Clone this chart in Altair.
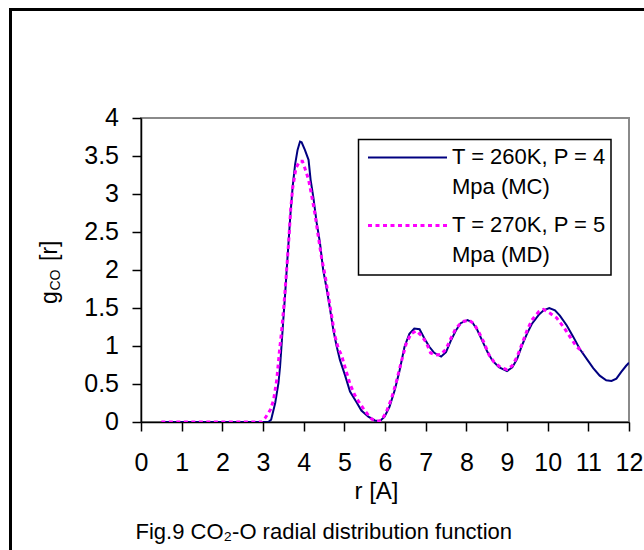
import altair as alt
import pandas as pd

# ---------------- data ----------------
r_mc = [0.5, 3.05, 3.13, 3.2, 3.3, 3.38, 3.42, 3.46, 3.5, 3.54, 3.58, 3.63, 3.67, 3.73,
        3.79, 3.85, 3.91, 3.95, 4.03, 4.12, 4.17, 4.24, 4.32, 4.4, 4.48, 4.57, 4.65, 4.73,
        4.81, 4.89, 5.02, 5.14, 5.3, 5.42, 5.59, 5.75, 5.87, 5.99, 6.11, 6.24, 6.36, 6.48,
        6.6, 6.72, 6.85, 6.97, 7.09, 7.21, 7.38, 7.5, 7.62, 7.74, 7.86, 8.03, 8.15, 8.27,
        8.39, 8.52, 8.64, 8.8, 9.0, 9.13, 9.25, 9.37, 9.49, 9.61, 9.78, 9.9, 10.04, 10.18,
        10.3, 10.47, 10.63, 10.79, 10.96, 11.12, 11.28, 11.44, 11.57, 11.69, 11.81, 11.93, 12.0]
g_mc = [0.0, 0.0, 0.0, 0.03, 0.25, 0.51, 0.73, 1.04, 1.35, 1.65, 1.98, 2.38, 2.7, 3.1,
        3.39, 3.58, 3.69, 3.68, 3.58, 3.45, 3.19, 2.95, 2.62, 2.36, 2.0, 1.74, 1.48, 1.21,
        1.0, 0.82, 0.61, 0.4, 0.26, 0.15, 0.07, 0.02, 0.01, 0.07, 0.2, 0.42, 0.68, 0.99,
        1.16, 1.23, 1.22, 1.1, 0.99, 0.91, 0.86, 0.92, 1.07, 1.2, 1.3, 1.34, 1.31, 1.21,
        1.07, 0.92, 0.81, 0.72, 0.67, 0.72, 0.83, 1.01, 1.16, 1.29, 1.41, 1.47, 1.5, 1.47,
        1.4, 1.27, 1.12, 0.96, 0.83, 0.71, 0.61, 0.55, 0.54, 0.57, 0.66, 0.74, 0.78]

r_md = [0.5, 2.97, 3.05, 3.18, 3.26, 3.34, 3.4, 3.46, 3.52, 3.57, 3.63, 3.68, 3.73, 3.81,
        3.9, 3.97, 4.03, 4.12, 4.2, 4.28, 4.36, 4.44, 4.53, 4.61, 4.69, 4.77, 4.85, 4.93,
        5.04, 5.14, 5.25, 5.34, 5.5, 5.67, 5.79, 5.91, 6.03, 6.16, 6.28, 6.4, 6.52, 6.64,
        6.77, 6.89, 7.01, 7.12, 7.25, 7.38, 7.5, 7.62, 7.74, 7.9, 8.07, 8.19, 8.31, 8.43,
        8.56, 8.68, 8.84, 9.0, 9.13, 9.25, 9.37, 9.49, 9.61, 9.78, 9.9, 10.06, 10.22, 10.39,
        10.55, 10.71, 10.88]
g_md = [0.0, 0.0, 0.05, 0.16, 0.29, 0.56, 0.91, 1.21, 1.57, 1.92, 2.36, 2.79, 3.08, 3.34,
        3.43, 3.43, 3.34, 3.19, 2.97, 2.73, 2.44, 2.16, 1.92, 1.65, 1.39, 1.13, 0.97, 0.88,
        0.68, 0.5, 0.36, 0.28, 0.15, 0.04, 0.01, 0.02, 0.13, 0.31, 0.53, 0.79, 1.03, 1.16,
        1.2, 1.14, 1.05, 0.91, 0.88, 0.89, 0.96, 1.1, 1.23, 1.32, 1.34, 1.29, 1.18, 1.05,
        0.88, 0.79, 0.72, 0.69, 0.74, 0.86, 1.03, 1.2, 1.34, 1.45, 1.48, 1.43, 1.37, 1.25,
        1.12, 0.99, 0.92]

x_ticks = list(range(0, 13))
y_ticks = [0, 0.5, 1, 1.5, 2, 2.5, 3, 3.5, 4]
y_tick_labels = ["0", "0.5", "1", "1.5", "2", "2.5", "3", "3.5", "4"]
legend_mc = ["T = 260K, P = 4", "Mpa (MC)"]
legend_md = ["T = 270K, P = 5", "Mpa (MD)"]
caption = "Fig.9 CO\u2082-O radial distribution function"
x_title = "r [A]"
y_title_parts = ["g", "CO", "[r]"]

# ---------------- layout ----------------
FONT = "Liberation Sans"
PL, PT = 141, 118          # plot area origin on the page
W, H = 488, 304            # plot area size
NAVY, MAGENTA = "#000080", "#FF00FF"


def px(x):
    return x - PL


def py(y):
    return y - PT


one = pd.DataFrame({"k": [0]})
mc = pd.DataFrame({"r": r_mc, "g": g_mc})
md = pd.DataFrame({"r": r_md, "g": g_md})
ylab = pd.DataFrame({"v": y_ticks, "t": y_tick_labels})

xs = alt.Scale(domain=[0, 12], nice=False, zero=False)
ys = alt.Scale(domain=[0, 4], nice=False, zero=False)

x_axis = alt.Axis(values=x_ticks, title=x_title, labelFlush=False, labelOverlap=False,
                  labelPadding=19, tickSize=9, titleX=235, titleY=76,
                  titleAlign="center", titleBaseline="alphabetic")
y_axis = alt.Axis(values=y_ticks, title=None, labels=False, tickSize=9)

frame = alt.Chart(one).mark_rect(filled=False, stroke="black", strokeWidth=3).encode(
    x=alt.value(px(10.5)), x2=alt.value(px(720)),
    y=alt.value(py(9.5)), y2=alt.value(py(640)))

line_mc = alt.Chart(mc).mark_line(color=NAVY, strokeWidth=2, clip=True).encode(
    x=alt.X("r:Q", scale=xs, axis=x_axis),
    y=alt.Y("g:Q", scale=ys, axis=y_axis))

line_md = alt.Chart(md).mark_line(color=MAGENTA, strokeWidth=3, strokeDash=[4, 3.5],
                                  clip=True).encode(
    x=alt.X("r:Q", scale=xs, axis=x_axis),
    y=alt.Y("g:Q", scale=ys, axis=y_axis))

# y tick labels, positioned through the y scale
y_labels = alt.Chart(ylab).mark_text(align="right", baseline="middle", font=FONT,
                                     fontSize=25, color="black").encode(
    y=alt.Y("v:Q", scale=ys, axis=y_axis),
    x=alt.value(px(119)),
    text="t:N")

box = alt.Chart(one).mark_rect(fill="white", stroke="black", strokeWidth=1.5).encode(
    x=alt.value(px(358.5)), x2=alt.value(px(611)),
    y=alt.value(py(139.5)), y2=alt.value(py(275)))

rule_mc = alt.Chart(one).mark_rule(color=NAVY, strokeWidth=2).encode(
    x=alt.value(px(368)), x2=alt.value(px(447)), y=alt.value(py(157.5)))
rule_md = alt.Chart(one).mark_rule(color=MAGENTA, strokeWidth=3, strokeDash=[4, 3.5]).encode(
    x=alt.value(px(368)), x2=alt.value(px(447)), y=alt.value(py(225.5)))


def label(txt, x, y, size=22, align="left", angle=0):
    return alt.Chart(one).mark_text(align=align, baseline="alphabetic", font=FONT,
                                    fontSize=size, color="black", angle=angle).encode(
        x=alt.value(px(x)), y=alt.value(py(y)), text=alt.value(txt))


texts = [
    label(legend_mc[0], 452, 164),
    label(legend_mc[1], 452, 194),
    label(legend_md[0], 452, 231.5),
    label(legend_md[1], 452, 261.5),
    label(caption, 135.5, 538.5),
    # rotated y-axis title: g + subscript CO + [r]
    label(y_title_parts[0], 57, 304, size=23, angle=270),
    label(y_title_parts[1], 60, 290.5, size=14, angle=270),
    label(y_title_parts[2], 57, 261, size=23, angle=270),
]

chart = alt.layer(frame, line_mc, line_md, y_labels, box, rule_mc, rule_md, *texts).properties(
    width=W, height=H,
    padding={"left": PL, "top": PT, "right": 644 - PL - W, "bottom": 550 - PT - H},
    autosize=alt.AutoSizeParams(type="none"),
    background="white",
).configure_view(
    stroke="#8a8a8a", strokeWidth=2
).configure_axis(
    grid=False, domainColor="black", domainWidth=1.5, tickColor="black", tickWidth=1.5,
    labelFont=FONT, labelFontSize=25, labelColor="black",
    titleFont=FONT, titleFontSize=24, titleFontWeight="normal", titleColor="black",
)

chart.save("out.html", embed_options={"renderer": "svg", "actions": False})
